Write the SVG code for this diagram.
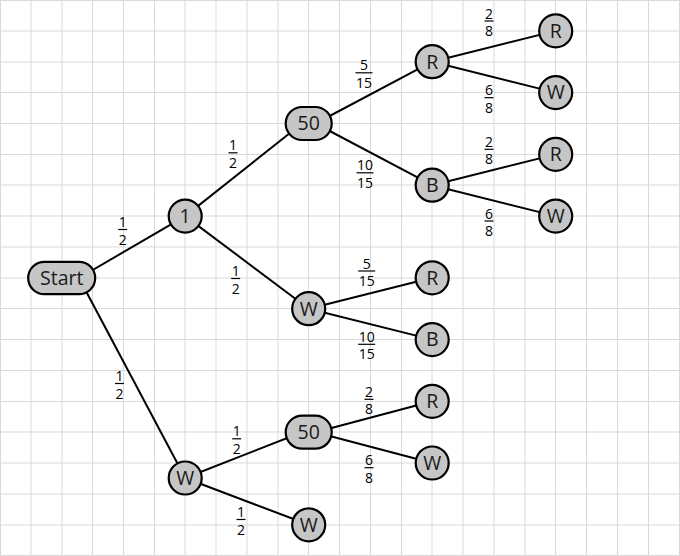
<svg xmlns="http://www.w3.org/2000/svg" width="680" height="556" viewBox="0 0 680 556">
<style>
.grid{stroke:#d9d9d9;stroke-width:1;fill:none}
.edge{stroke:#000;stroke-width:2;fill:none}
.node{fill:#c6c6c6;stroke:#000;stroke-width:2.2}
.lbl{font-family:"Open Sans","DejaVu Sans",sans-serif;font-size:19.5px;fill:#1a1a1a;text-anchor:middle}
.f{font-family:"Open Sans","DejaVu Sans",sans-serif;font-size:14px;fill:#000;text-anchor:middle}
.bar{stroke:#000;stroke-width:1.2}
</style>
<rect x="0" y="0" width="680" height="556" fill="#fff"/>
<path class="grid" d="M0.5 0V556M31 0V556M62 0V556M92.5 0V556M123.5 0V556M154.5 0V556M185 0V556M216 0V556M247 0V556M278 0V556M308.5 0V556M339.5 0V556M370.5 0V556M401.5 0V556M432 0V556M463 0V556M494 0V556M525 0V556M555.5 0V556M586.5 0V556M617.5 0V556M648.5 0V556M679.5 0V556M0 0.5H680M0 31H680M0 62H680M0 92.5H680M0 123.5H680M0 154.5H680M0 185H680M0 216H680M0 247H680M0 278H680M0 308.5H680M0 339.5H680M0 370.5H680M0 401.5H680M0 432H680M0 463H680M0 494H680M0 525H680M0 555.5H680"/>
<g id="connectors">
<line class="edge" x1="79" y1="278" x2="185.2" y2="216.1"/>
<line class="edge" x1="79" y1="278" x2="185.2" y2="478"/>
<line class="edge" x1="185.2" y1="216.1" x2="302" y2="123.5"/>
<line class="edge" x1="185.2" y1="216.1" x2="308.7" y2="308.7"/>
<line class="edge" x1="315.5" y1="123.5" x2="432.2" y2="61.7"/>
<line class="edge" x1="315.5" y1="123.5" x2="432.2" y2="185.2"/>
<line class="edge" x1="432.2" y1="61.7" x2="555.7" y2="30.9"/>
<line class="edge" x1="432.2" y1="61.7" x2="555.7" y2="92.6"/>
<line class="edge" x1="432.2" y1="185.2" x2="555.7" y2="154.4"/>
<line class="edge" x1="432.2" y1="185.2" x2="555.7" y2="216.1"/>
<line class="edge" x1="308.7" y1="308.7" x2="432.2" y2="277.8"/>
<line class="edge" x1="308.7" y1="308.7" x2="432.2" y2="339.6"/>
<line class="edge" x1="185.2" y1="478" x2="302" y2="432.2"/>
<line class="edge" x1="185.2" y1="478" x2="308.7" y2="524.8"/>
<line class="edge" x1="315.5" y1="432.2" x2="432.2" y2="401.3"/>
<line class="edge" x1="315.5" y1="432.2" x2="432.2" y2="463"/>
</g>
<g id="labels">
<g><text class="f" x="122.7" y="227">1</text><line class="bar" x1="118.2" y1="229.5" x2="127.2" y2="229.5"/><text class="f" x="122.7" y="244.5">2</text></g>
<g><text class="f" x="233" y="150.3">1</text><line class="bar" x1="228.5" y1="152.8" x2="237.5" y2="152.8"/><text class="f" x="233" y="167.8">2</text></g>
<g><text class="f" x="235.7" y="276">1</text><line class="bar" x1="231.2" y1="278.5" x2="240.2" y2="278.5"/><text class="f" x="235.7" y="293.5">2</text></g>
<g><text class="f" x="119.5" y="381">1</text><line class="bar" x1="115" y1="383.5" x2="124" y2="383.5"/><text class="f" x="119.5" y="398.5">2</text></g>
<g><text class="f" x="236.7" y="436.3">1</text><line class="bar" x1="232.2" y1="438.8" x2="241.2" y2="438.8"/><text class="f" x="236.7" y="453.8">2</text></g>
<g><text class="f" x="241" y="517">1</text><line class="bar" x1="236.5" y1="519.5" x2="245.5" y2="519.5"/><text class="f" x="241" y="534.5">2</text></g>
<g><text class="f" x="364" y="70.3">5</text><line class="bar" x1="355.5" y1="72.8" x2="372.5" y2="72.8"/><text class="f" x="364" y="87.8">15</text></g>
<g><text class="f" x="365" y="170.3">10</text><line class="bar" x1="356.5" y1="172.8" x2="373.5" y2="172.8"/><text class="f" x="365" y="187.8">15</text></g>
<g><text class="f" x="489" y="18.5">2</text><line class="bar" x1="484.5" y1="21" x2="493.5" y2="21"/><text class="f" x="489" y="36">8</text></g>
<g><text class="f" x="489" y="95.2">6</text><line class="bar" x1="484.5" y1="97.7" x2="493.5" y2="97.7"/><text class="f" x="489" y="112.7">8</text></g>
<g><text class="f" x="489" y="146.8">2</text><line class="bar" x1="484.5" y1="149.3" x2="493.5" y2="149.3"/><text class="f" x="489" y="164.3">8</text></g>
<g><text class="f" x="489" y="218.5">6</text><line class="bar" x1="484.5" y1="221" x2="493.5" y2="221"/><text class="f" x="489" y="236">8</text></g>
<g><text class="f" x="366.7" y="268.5">5</text><line class="bar" x1="358.2" y1="271" x2="375.2" y2="271"/><text class="f" x="366.7" y="286">15</text></g>
<g><text class="f" x="366.7" y="341.8">10</text><line class="bar" x1="358.2" y1="344.3" x2="375.2" y2="344.3"/><text class="f" x="366.7" y="359.3">15</text></g>
<g><text class="f" x="369" y="396.8">2</text><line class="bar" x1="364.5" y1="399.3" x2="373.5" y2="399.3"/><text class="f" x="369" y="414.3">8</text></g>
<g><text class="f" x="369" y="465.2">6</text><line class="bar" x1="364.5" y1="467.7" x2="373.5" y2="467.7"/><text class="f" x="369" y="482.7">8</text></g>
</g>
<g id="n-start"><rect class="node" x="28.2" y="261.8" width="67" height="32.4" rx="16.2"/><text class="lbl" x="61.7" y="285">Start</text></g>
<g id="n-1"><circle class="node" cx="185.2" cy="216.1" r="16.5"/><text class="lbl" x="185.2" y="223">1</text></g>
<g id="n-50a"><rect class="node" x="285.7" y="107" width="46" height="33" rx="16.5"/><text class="lbl" x="308.7" y="130.3">50</text></g>
<g id="n-w1"><circle class="node" cx="308.7" cy="308.7" r="16.5"/><text class="lbl" x="308.7" y="315.5">W</text></g>
<g id="n-r1"><circle class="node" cx="432.2" cy="61.7" r="16.5"/><text class="lbl" x="432.2" y="68.5">R</text></g>
<g id="n-b1"><circle class="node" cx="432.2" cy="185.2" r="16.5"/><text class="lbl" x="432.2" y="192">B</text></g>
<g id="n-rr"><circle class="node" cx="555.7" cy="30.9" r="16.5"/><text class="lbl" x="555.7" y="37.7">R</text></g>
<g id="n-rw"><circle class="node" cx="555.7" cy="92.6" r="16.5"/><text class="lbl" x="555.7" y="99.4">W</text></g>
<g id="n-br"><circle class="node" cx="555.7" cy="154.4" r="16.5"/><text class="lbl" x="555.7" y="161.2">R</text></g>
<g id="n-bw"><circle class="node" cx="555.7" cy="216.1" r="16.5"/><text class="lbl" x="555.7" y="222.9">W</text></g>
<g id="n-wr"><circle class="node" cx="432.2" cy="277.8" r="16.5"/><text class="lbl" x="432.2" y="284.6">R</text></g>
<g id="n-wb"><circle class="node" cx="432.2" cy="339.6" r="16.5"/><text class="lbl" x="432.2" y="346.4">B</text></g>
<g id="n-w2"><circle class="node" cx="185.2" cy="478" r="16.5"/><text class="lbl" x="185.2" y="484.8">W</text></g>
<g id="n-50b"><rect class="node" x="285.7" y="415.7" width="46" height="33" rx="16.5"/><text class="lbl" x="308.7" y="439">50</text></g>
<g id="n-ww"><circle class="node" cx="308.7" cy="524.8" r="16.5"/><text class="lbl" x="308.7" y="531.6">W</text></g>
<g id="n-br2"><circle class="node" cx="432.2" cy="401.3" r="16.5"/><text class="lbl" x="432.2" y="408.1">R</text></g>
<g id="n-bw2"><circle class="node" cx="432.2" cy="463" r="16.5"/><text class="lbl" x="432.2" y="469.8">W</text></g>
</svg>
